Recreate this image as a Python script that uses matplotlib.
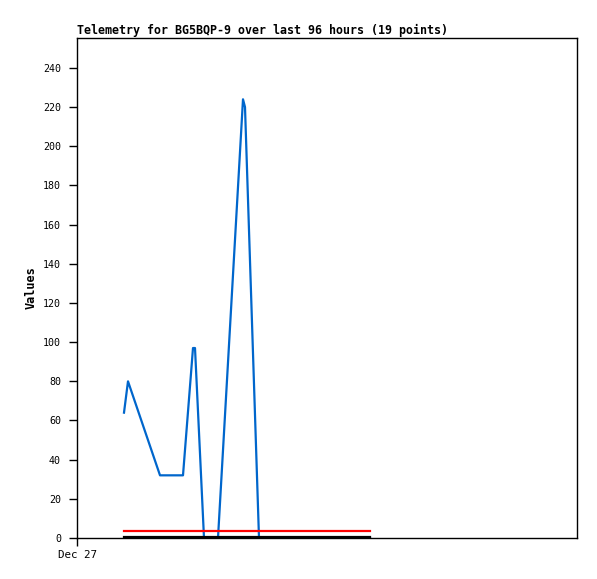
import numpy as np
import matplotlib
matplotlib.use("Agg")
from matplotlib import pyplot as plt

# hours since Dec 27 00:00
hours = [9.4, 10.2, 16.6, 21.2, 23.2, 23.6, 25.4, 28.2, 33.2, 33.6,
         36.4, 40.0, 44.0, 47.0, 50.0, 53.0, 55.0, 57.0, 58.6]
values = [64, 80, 32, 32, 97, 97, 0, 0, 224, 220,
          0, 0, 0, 0, 0, 0, 0, 0, 0]
red_level = 3.7
black_level = 0.5

plt.rcParams['font.family'] = ['DejaVu Sans Mono']

fig = plt.figure(figsize=[5.97, 5.79], dpi=100, facecolor="white")
ax = fig.add_axes([77/597, 41/579, 500/597, 500/579])

ax.plot(hours, values, '-', color='#0066cc', lw=1.6)
ax.plot([hours[0], hours[-1]], [red_level, red_level], '-', color='#ff0000', lw=1.6)
ax.plot([hours[0], hours[-1]], [black_level, black_level], '-', color='black', lw=1.6)

ax.set_xlim(0, 100)
ax.set_ylim(0, 255.3)
ax.set_yticks(np.arange(0, 241, 20))
ax.set_xticks([0])
ax.set_xticklabels(['Dec 27'])
ax.tick_params(axis='y', direction='out', length=5.8, width=1, labelsize=7.2, pad=5.8)
ax.tick_params(axis='x', direction='out', length=5.5, width=1, labelsize=7.8, pad=3)
for s in ax.spines.values():
    s.set_linewidth(1)

ax.set_title("Telemetry for BG5BQP-9 over last 96 hours (19 points)",
             loc='left', fontsize=8.35, fontweight='bold', pad=3)
ax.set_ylabel("Values", fontsize=8.6, fontweight='bold', labelpad=3.6)

plt.savefig('out.png', dpi=100)
